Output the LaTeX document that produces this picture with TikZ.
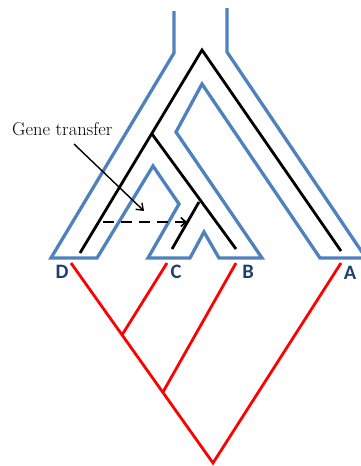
\documentclass[tikz,border=0pt]{standalone}
\usepackage{fontspec}
\usetikzlibrary{arrows.meta}
\newfontfamily\lblfont{Carlito}
\definecolor{outlineblue}{HTML}{4F81BD}
\definecolor{labelblue}{HTML}{1F3F6F}
\definecolor{treered}{HTML}{FF0000}
\tikzset{
  hostline/.style={draw=outlineblue, line width=3.3pt, line join=miter},
  geneline/.style={draw=black, line width=2.8pt},
  speciesline/.style={draw=treered, line width=2.8pt},
  taxon/.style={font=\lblfont\bfseries\fontsize{20.5}{20.5}\selectfont, text=labelblue, inner sep=0pt},
  transfer/.style={draw=black, line width=2.8pt, dash pattern=on 11pt off 7pt, -{Straight Barb[length=5pt,width=9pt,line width=1.6pt]}},
  pointer/.style={draw=black, line width=1.4pt, -{Straight Barb[length=6pt,width=9pt]}}
}
\begin{document}
\begin{tikzpicture}[x=1pt,y=-1pt]
\useasboundingbox (0,0) rectangle (361,466);
% blue host outline
\begin{scope}
\clip (0,0) rectangle (361,466);
\draw[hostline] (174,11) -- (174,53) -- (51,258) -- (97,258) -- (153,166) -- (179,204)
  -- (148,258) -- (190,258) -- (204,232) -- (219,258) -- (262,258) -- (176,132)
  -- (202,84) -- (320,258) -- (366,258) -- (227,52) -- (227,8);
\end{scope}
% gene tree
\coordinate (groot) at (202,50);
\coordinate (gdc) at (152,134);
\coordinate (gcb) at (199,202);
\coordinate (gD) at (80,253);
\coordinate (gC) at (172,249);
\coordinate (gB) at (236,249);
\coordinate (gA) at (341,251);
\draw[geneline, line join=miter] (gD) -- (groot) -- (gA);
\draw[geneline] (gdc) -- (gB);
\draw[geneline] (gcb) -- (gC);
% transfer arrow
\coordinate (tfrom) at (103,222);
\coordinate (tto) at (187,222);
\draw[transfer] (tfrom) -- (tto);
% label and pointer
\node[anchor=base west, inner sep=0pt, font=\fontsize{18.5}{18.5}\selectfont] (gt) at (12,135) {Gene transfer};
\coordinate (pstart) at (74,144);
\coordinate (pend) at (144,211);
\draw[pointer] (pstart) -- (pend);
% taxon labels
\node[taxon] (D) at (62,272) {D};
\node[taxon] (C) at (176,272) {C};
\node[taxon] (B) at (248,272) {B};
\node[taxon] (A) at (350,273) {A};
% species tree
\coordinate (sroot) at (213,463);
\coordinate (sDC) at (122,335);
\coordinate (sDCB) at (163,392);
\coordinate (sD) at (71,263);
\coordinate (sC) at (167,263);
\coordinate (sB) at (236,263);
\coordinate (sA) at (341,263);
\draw[speciesline, line join=miter] (sD) -- (sroot) -- (sA);
\draw[speciesline] (sC) -- (sDC);
\draw[speciesline] (sB) -- (sDCB);
\end{tikzpicture}
\end{document}
